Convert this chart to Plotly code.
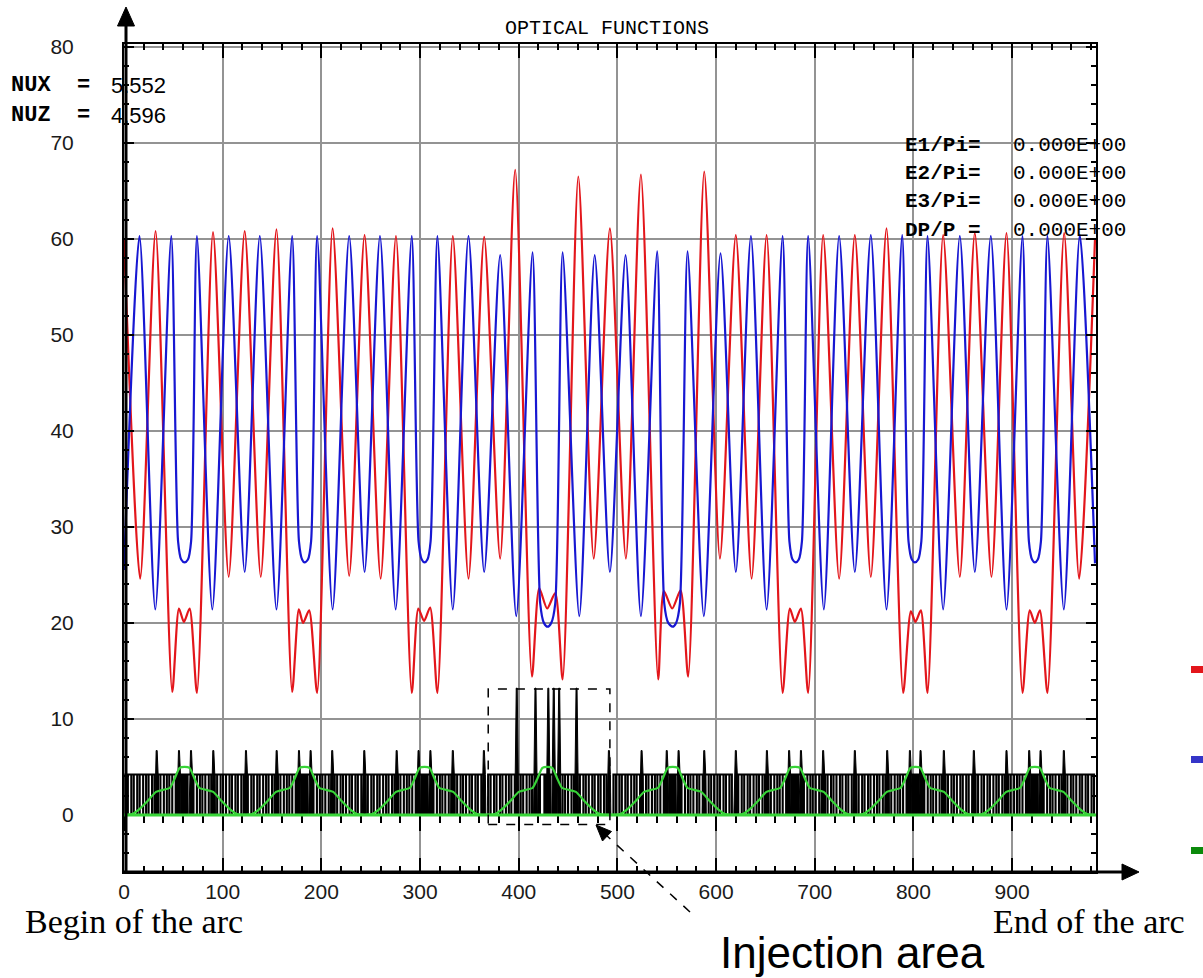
import plotly.graph_objects as go

# ---------------- data ----------------
# horizontal beta function (red)
RED_S = [0, 16.4, 32.0, 48.9, 55.7, 60.7, 66.5, 73.9, 90.2, 106.1, 122.3, 138.6, 154.5,
         170.4, 177.2, 181.5, 187.6, 195.7, 211.4, 228.2, 243.8, 260.1, 275.6,
         291.6, 298.3, 304.1, 310.2, 317.6, 333.2, 349.1, 365.0, 381.2, 396.4,
         413.4, 420.8, 428.8, 437.0, 444.5, 460.4, 476.0, 492.4, 508.6, 523.8,
         541.3, 547.1, 555.5, 564.0, 571.7, 588.0, 603.9, 620.0, 636.0, 651.2,
         667.4, 674.8, 679.8, 685.9, 693.3, 708.5, 724.7, 740.6, 756.8, 772.7,
         789.6, 797.4, 802.1, 807.5, 814.3, 830.1, 847.0, 862.2, 879.1, 894.3,
         910.5, 917.9, 923.0, 928.1, 935.8, 952.7, 967.9, 984.0]
RED_B = [60.0, 24.6, 60.8, 12.8, 21.5, 20.1, 21.5, 12.7, 60.7, 24.8, 60.8, 24.8, 61.0,
         12.8, 21.4, 20.0, 21.3, 12.7, 61.1, 24.9, 60.4, 24.6, 60.3,
         12.7, 21.5, 20.2, 21.6, 12.7, 60.3, 24.6, 60.2, 26.7, 67.2,
         14.4, 23.6, 21.5, 23.1, 14.1, 66.5, 26.7, 61.1, 26.7, 66.7,
         14.1, 23.3, 21.5, 23.4, 14.4, 67.0, 26.7, 60.4, 24.6, 60.4,
         12.7, 21.5, 20.1, 21.5, 12.7, 60.4, 24.6, 60.4, 24.8, 61.1,
         12.7, 21.2, 20.1, 21.3, 12.7, 60.4, 24.8, 60.6, 24.8, 60.6,
         12.7, 21.3, 20.0, 21.3, 12.7, 60.6, 24.6, 60.0]

# vertical beta function (blue)
BLUE_S = [0, 15.7, 31.7, 47.9, 54.8, 58.0, 61.4, 64.8, 68.0, 73.9, 89.5, 106.1, 122.3,
          137.6, 154.5, 170.4, 177.3, 180.5, 183.0, 186.4, 189.6, 195.7, 211.4, 228.2,
          243.8, 259.4, 275.3, 291.6, 298.5, 301.7, 304.6, 307.5, 310.7, 317.6, 333.2,
          349.1, 365.0, 381.2, 397.5, 414.0, 421.8, 425.5, 429.3, 433.0, 437.0, 444.5,
          461.4, 477.0, 492.4, 508.3, 523.8, 540.3, 547.5, 551.5, 555.9, 559.5, 563.3,
          571.1, 587.6, 604.5, 620.0, 635.3, 651.2, 667.4, 674.3, 677.5, 680.9, 683.8,
          687.0, 693.3, 709.2, 724.7, 740.6, 756.8, 772.7, 788.6, 795.0, 798.4, 801.4,
          804.8, 808.0, 814.3, 830.1, 847.0, 862.2, 878.4, 894.3, 910.5, 917.0, 920.2,
          923.0, 926.0, 929.2, 935.8, 952.4, 968.6, 984.0]
BLUE_B = [25.5, 60.3, 21.4, 60.3, 28.5, 26.6, 26.3, 26.6, 28.5, 60.3, 21.4, 60.3, 25.3,
          60.3, 21.4, 60.3, 28.5, 26.6, 26.3, 26.6, 28.5, 60.3, 21.4, 60.3,
          25.3, 60.3, 21.4, 60.3, 28.5, 26.6, 26.3, 26.6, 28.5, 60.3, 21.4,
          60.3, 25.3, 58.3, 20.7, 58.6, 22.0, 20.0, 19.6, 20.0, 22.0, 58.6,
          20.7, 58.3, 25.3, 58.3, 20.7, 58.7, 22.0, 20.0, 19.6, 20.0, 22.0,
          58.7, 20.7, 58.5, 25.3, 60.3, 21.4, 60.3, 28.5, 26.6, 26.3, 26.6,
          28.5, 60.3, 21.4, 60.3, 25.3, 60.4, 21.4, 60.4, 28.5, 26.6, 26.3,
          26.6, 28.5, 60.3, 21.4, 60.3, 25.3, 60.3, 21.4, 60.3, 28.5, 26.6,
          26.3, 26.6, 28.5, 60.3, 21.4, 60.4, 26.2]

# dispersion (green): one bump per lattice cell
CELL_CENTERS = [61.4, 183.0, 304.6, 429.0, 556.0, 680.0, 802.0, 923.0]
DISP_BUMP_DS = [-61, -53, -47, -37, -29, -22, -15, -10, -5, 0, 5, 10, 15, 22, 29, 37, 47, 53, 61]
DISP_BUMP_D = [0, 0.1, 0.5, 1.5, 2.4, 2.6, 2.8, 3.8, 4.9, 5.0, 4.9, 3.8, 2.8, 2.6, 2.4, 1.5, 0.5, 0.1, 0]

# lattice synoptic (black): magnet edges inside a cell, quadrupole spikes
DIPOLE_EDGE_DS = [-60, -57.5, -54, -51.5, -48, -45.5, -42, -39, -36.5, -33, -30.5, -27,
                  -24.5, -21, -18, -15.5, -12.5, -9, -7.5, -3, -1, 1, 3, 7.5, 9, 12.5,
                  15.5, 18, 21, 24.5, 27, 30.5, 33, 36.5, 39, 42, 45.5, 48, 51.5, 54,
                  57.5, 60]
BAND_H = 4.2
QUAD_S = [33.1, 55.7, 67.9, 90.5, 123.6, 154.7, 177.3, 189.1, 211.0, 243.5, 276.3,
          298.5, 310.5, 333.2, 364.7, 398.0, 417.0, 430.0, 435.5, 441.0, 458.6, 491.4,
          524.5, 550.0, 562.0, 588.0, 620.0, 651.5, 674.0, 686.0, 708.5, 740.6, 773.4,
          796.4, 807.2, 830.8, 861.2, 894.3, 917.3, 928.8, 952.4]
QUAD_H = [6.7, 6.7, 6.7, 6.7, 6.7, 6.7, 6.7, 6.7, 6.7, 6.7, 6.7,
          6.7, 6.7, 6.7, 6.7, 13.2, 13.2, 13.2, 13.2, 13.2, 13.2, 6.7,
          6.7, 6.7, 6.7, 6.7, 6.7, 6.7, 6.7, 6.7, 6.7, 6.7, 6.7,
          6.7, 6.7, 6.7, 6.7, 6.7, 6.7, 6.7, 6.7]

INJ_BOX = [369.1, 492.4, -1.0, 13.1]   # s0, s1, y0, y1

X_TICKS = [0, 100, 200, 300, 400, 500, 600, 700, 800, 900]
Y_TICKS = [0, 10, 20, 30, 40, 50, 60, 70, 80]
X_RANGE = [0, 985]
Y_RANGE = [-5.95, 80.3]

# ---------------- layout geometry (pixels) ----------------
W, H = 1203, 978
L, R, T, B = 124, 107, 44, 106
PW, PH = W - L - R, H - T - B


def PX(px):
    return (px - L) / PW


def PY(py):
    return (H - B - py) / PH


RED = "#e3161b"
BLUE = "#1717d2"
GREEN = "#38d438"
MONO = "Liberation Mono"

# ---------------- build traces ----------------
disp_x, disp_y = [], []
for c in CELL_CENTERS:
    for d, v in zip(DISP_BUMP_DS, DISP_BUMP_D):
        disp_x.append(c + d)
        disp_y.append(v)

band_x, band_y = [], []
for c in CELL_CENTERS:
    edges = [c + d for d in DIPOLE_EDGE_DS]
    band_x.append(edges[0]); band_y.append(0)
    for e in edges:
        band_x += [e, e, e]
        band_y += [BAND_H, 0, BAND_H]
    band_x += [edges[-1], None]
    band_y += [0, None]

quad_x, quad_y = [], []
for s, h in zip(QUAD_S, QUAD_H):
    quad_x += [s - 2.0, s - 1.5, s - 0.5, s + 0.5, s + 1.5, s + 2.0, None]
    quad_y += [0, BAND_H, h, h, BAND_H, 0, None]

fig = go.Figure()
fig.add_trace(go.Scatter(x=RED_S, y=RED_B, mode="lines",
                         line=dict(color=RED, width=2.2, shape="spline", smoothing=0.7),
                         hoverinfo="skip"))
fig.add_trace(go.Scatter(x=BLUE_S, y=BLUE_B, mode="lines",
                         line=dict(color=BLUE, width=2.2, shape="spline", smoothing=0.7),
                         hoverinfo="skip"))
fig.add_trace(go.Scatter(x=band_x, y=band_y, mode="lines",
                         line=dict(color="black", width=2.1), hoverinfo="skip"))
fig.add_trace(go.Scatter(x=quad_x, y=quad_y, mode="lines", fill="toself",
                         fillcolor="black", line=dict(color="black", width=1),
                         hoverinfo="skip"))
fig.add_trace(go.Scatter(x=disp_x, y=disp_y, mode="lines",
                         line=dict(color=GREEN, width=2.2, shape="spline", smoothing=0.6),
                         hoverinfo="skip"))
# helper trace so the zero-line tick axis is drawn
fig.add_trace(go.Scatter(x=X_RANGE, y=[None, None], xaxis="x2", mode="lines",
                         hoverinfo="skip"))

tickfont = dict(family="Liberation Sans", size=21, color="#1a1a1a")
fig.update_layout(
    width=W, height=H, margin=dict(l=L, r=R, t=T, b=B),
    paper_bgcolor="white", plot_bgcolor="white", showlegend=False,
    xaxis=dict(range=X_RANGE, tickvals=X_TICKS, showgrid=True, gridcolor="#939393",
               gridwidth=2, zeroline=False, showline=True, linecolor="black",
               linewidth=2, mirror="ticks", ticks="inside", ticklen=14,
               tickwidth=1.5, tickcolor="black", tickfont=tickfont,
               ticklabelstandoff=0,
               minor=dict(dtick=20, ticks="inside", ticklen=6, tickwidth=1.5,
                          tickcolor="black", showgrid=False)),
    xaxis2=dict(range=X_RANGE, overlaying="x", anchor="free",
                position=(0 - Y_RANGE[0]) / (Y_RANGE[1] - Y_RANGE[0]),
                tickvals=X_TICKS, showticklabels=False, showgrid=False,
                zeroline=False, showline=False, ticks="outside", ticklen=15,
                tickwidth=1.5, tickcolor="black",
                minor=dict(dtick=20, ticks="outside", ticklen=7, tickwidth=1.5,
                           tickcolor="black", showgrid=False)),
    yaxis=dict(range=Y_RANGE, tickvals=Y_TICKS, showgrid=True, gridcolor="#939393",
               gridwidth=2, zeroline=False, showline=True, linecolor="black",
               linewidth=2, mirror="ticks", ticks="inside", ticklen=10,
               tickwidth=1.5, tickcolor="black", tickfont=tickfont,
               ticklabelstandoff=44,
               minor=dict(dtick=2, ticks="inside", ticklen=5, tickwidth=1.5,
                          tickcolor="black", showgrid=False)),
)

shapes = []
# green zero line of the dispersion plot
shapes.append(dict(type="line", xref="x domain", yref="y", x0=0, x1=1, y0=0, y1=0,
                   line=dict(color=GREEN, width=3), layer="above"))
# injection area dashed box
shapes.append(dict(type="rect", xref="x", yref="y", x0=INJ_BOX[0], x1=INJ_BOX[1],
                   y0=INJ_BOX[2], y1=INJ_BOX[3],
                   line=dict(color="black", width=1.5, dash="dash")))
# axis arrows
shapes.append(dict(type="line", xref="paper", yref="paper", x0=PX(126), x1=PX(126),
                   y0=PY(872), y1=PY(22), line=dict(color="black", width=3)))
shapes.append(dict(type="path", xref="paper", yref="paper",
                   path=f"M {PX(126)} {PY(7)} L {PX(117.5)} {PY(26)} L {PX(134.5)} {PY(26)} Z",
                   fillcolor="black", line=dict(color="black", width=1)))
shapes.append(dict(type="line", xref="paper", yref="paper", x0=PX(124), x1=PX(1125),
                   y0=PY(872), y1=PY(872), line=dict(color="black", width=3)))
shapes.append(dict(type="path", xref="paper", yref="paper",
                   path=f"M {PX(1139)} {PY(872)} L {PX(1122)} {PY(864)} L {PX(1122)} {PY(880)} Z",
                   fillcolor="black", line=dict(color="black", width=1)))
# dashed pointer to the injection area
shapes.append(dict(type="line", xref="paper", yref="paper", x0=PX(690), y0=PY(912),
                   x1=PX(606), y1=PY(835), line=dict(color="black", width=1.5, dash="dash")))
shapes.append(dict(type="path", xref="paper", yref="paper",
                   path=f"M {PX(596)} {PY(825)} L {PX(611.5)} {PY(831.5)} L {PX(602.5)} {PY(841)} Z",
                   fillcolor="black", line=dict(color="black", width=1)))
# cut-off legend keys at the right edge
for col, py0 in ((RED, 666), ("#3535c8", 756), ("#0b8a0b", 847)):
    shapes.append(dict(type="rect", xref="paper", yref="paper", x0=PX(1191), x1=PX(1204),
                       y0=PY(py0 + 7), y1=PY(py0), fillcolor=col, line=dict(width=0)))
fig.update_layout(shapes=shapes)

ann = []


def text(s, px, py, size, family, anchor="left", color="black"):
    ann.append(dict(text=s, xref="paper", yref="paper", x=PX(px), y=PY(py),
                    xanchor=anchor, yanchor="middle", showarrow=False, borderpad=0,
                    font=dict(family=family, size=size, color=color)))


text("OPTICAL FUNCTIONS", 607, 29, 20, MONO, anchor="center")
text("<b>NUX  =</b>", 10, 85, 22, MONO)
text("<b>NUZ  =</b>", 10, 115, 22, MONO)
text("5.552", 110, 85, 22, "Liberation Sans")
text("4.596", 110, 115, 22, "Liberation Sans")
for i, lab in enumerate(["E1/Pi=", "E2/Pi=", "E3/Pi=", "DP/P ="]):
    py = 145 + i * 28.4
    text(f"<b>{lab}</b>", 904, py, 21, MONO)
    text("0.000E+00", 1012, py, 21, MONO)
text("Begin of the arc", 24, 921, 34, "Liberation Serif")
text("End of the arc", 992, 921, 34, "Liberation Serif")
text("Injection area", 719, 952, 44, "Liberation Sans")
fig.update_layout(annotations=ann)

fig.write_html("out.html")
